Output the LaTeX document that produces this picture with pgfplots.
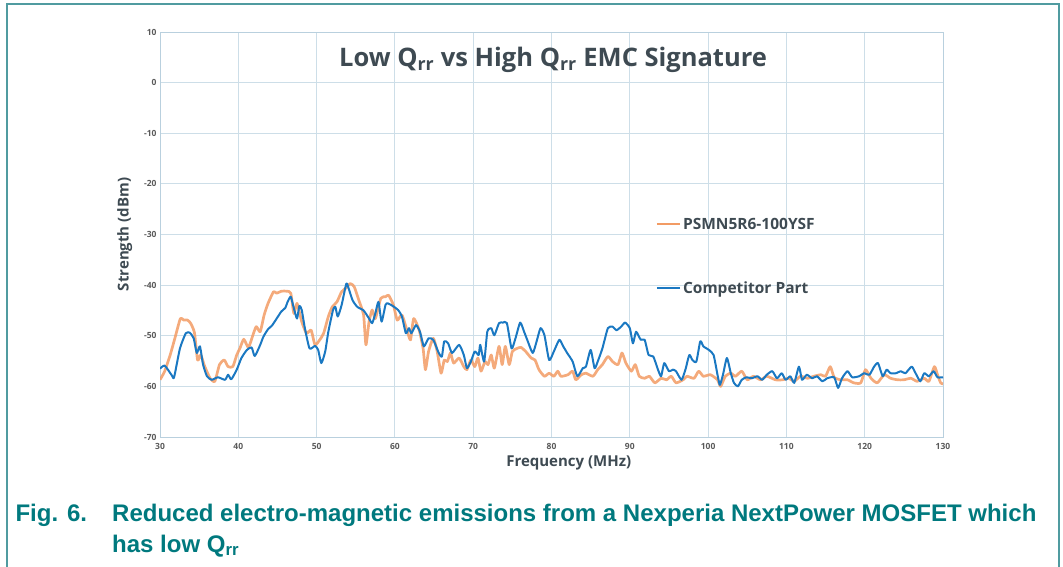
\documentclass[border=0pt]{standalone}
\usepackage{fontspec}
\setmainfont{Liberation Sans}
\newfontfamily\chartfont{Open Sans}
\usepackage{pgfplots}
\pgfplotsset{compat=1.18}
\definecolor{gridc}{RGB}{205,222,232}
\definecolor{axisc}{RGB}{185,208,222}
\definecolor{orangec}{RGB}{242,155,100}
\definecolor{bluec}{RGB}{26,120,194}
\definecolor{textc}{RGB}{62,74,82}
\definecolor{tickc}{RGB}{90,90,90}
\definecolor{tealc}{RGB}{0,121,126}
\definecolor{borderc}{RGB}{80,155,160}
\begin{document}
\begin{tikzpicture}
\useasboundingbox (0pt,0pt) rectangle (1063pt,566pt);
\draw[borderc, line width=1.2pt] (7pt,-2pt) -- (7pt,562pt) -- (1059pt,562pt) -- (1059pt,-2pt);
\begin{axis}[
  at={(160pt,129pt)}, anchor=south west, scale only axis,
  width=783pt, height=405pt,
  xmin=30, xmax=130, ymin=-70, ymax=10,
  xtick={30,40,...,130}, ytick={-70,-60,...,10},
  grid=major, major grid style={gridc, line width=0.9pt},
  axis line style={axisc, line width=1pt},
  tick style={draw=none},
  ticklabel style={font=\chartfont\bfseries\fontsize{8.5}{10}\selectfont, text=tickc},
  xticklabel style={yshift=-3pt},
  /pgf/number format/assume math mode=true,
  xlabel={Frequency (MHz)}, ylabel={Strength (dBm)},
  label style={font=\chartfont\bfseries\fontsize{15}{17}\selectfont, text=textc},
  xlabel style={at={(axis description cs:0.522,-0.064)}, anchor=center},
  ylabel style={at={(axis description cs:-0.045,0.5)}, anchor=center},
  legend style={at={(axis cs:93.3,-26.3)}, anchor=north west, draw=none, fill=none,
    font=\chartfont\bfseries\fontsize{15.5}{17}\selectfont, text=textc, row sep=47pt, inner sep=0pt},
  legend cell align=left,
  legend image code/.code={\draw[#1, line width=2.2pt, opacity=1] (0pt,0pt) -- (23pt,0pt);},
  clip=true,
]
\addplot[orangec, line width=2.7pt, opacity=0.85, line join=round, smooth, tension=0.35] coordinates {
(30,-58.7)(30.6,-57)(31.3,-53.8)(31.9,-50.5)(32.6,-46.6)(33,-46.9)(33.5,-46.9)(33.9,-47.5)(34.4,-49.4)(34.8,-54.8)(35.2,-53.8)(35.7,-56)(36.4,-58.4)(37.0,-59)(37.6,-55.7)(38.2,-54.8)(38.7,-56.1)(39.3,-56.1)(39.8,-53.8)(40.2,-52.5)(40.7,-50.7)(41.3,-52.3)(41.9,-49.7)(42.3,-48.2)(42.8,-49.2)(43.3,-45.9)(43.8,-43.6)(44.5,-41.3)(44.9,-41.6)(45.5,-41.2)(46.2,-41.2)(46.7,-41.6)(47.1,-45.6)(47.5,-43.6)(48.1,-47.2)(48.7,-49.5)(49.3,-48.9)(49.8,-51.8)(50.4,-50.8)(50.9,-49.5)(51.5,-46.2)(52.0,-44.3)(52.6,-43.3)(53.2,-41.3)(53.8,-40.5)(54.3,-39.7)(54.8,-40.3)(55.4,-43)(56.0,-45.9)(56.3,-51.8)(56.7,-47.2)(57.1,-44.9)(57.5,-46.6)(58.2,-42.6)(58.8,-42.3)(59.2,-42)(59.8,-43.9)(60.3,-46.9)(60.9,-45.9)(61.6,-49.2)(62,-50.8)(62.4,-46.6)(63.1,-48.9)(63.6,-52.5)(63.9,-56.7)(64.3,-53.1)(64.9,-50.5)(65.4,-53.1)(65.9,-57.4)(66.3,-54.8)
(66.7,-55.1)(67.1,-53.4)(67.5,-55.4)(68.2,-54.4)(68.8,-56.1)(69.2,-56.7)(69.7,-54.8)(70.2,-56.1)(70.6,-54.4)(71.0,-57)(71.5,-55.1)(71.9,-55.7)(72.3,-53.8)(72.7,-56.4)(73.3,-52.1)(73.7,-55.7)(74.1,-52.1)(74.6,-55.7)(75.0,-53.1)(75.6,-52.5)(76.1,-52.3)(76.7,-53.1)(77.4,-54.4)(77.9,-54.8)(78.4,-56.7)(79.1,-58)(79.7,-57.4)(80.3,-58)(80.8,-57)(81.2,-58)(82.1,-57.7)(82.7,-57)(83.1,-58.7)(83.8,-57.7)(84.4,-57.4)(85.3,-58)(85.9,-56.7)(86.5,-55.7)(87.2,-54.1)(87.8,-55.1)(88.5,-55.7)(89.0,-53.4)(89.5,-55.4)(90.2,-57)(90.7,-55.7)(91.2,-58)(91.9,-58.4)(92.5,-58)(93.2,-59.3)(94.0,-58.4)(94.7,-58.7)(95.3,-58)(95.9,-59.3)(96.8,-58.7)
(97.3,-58)(98.2,-58.4)(98.8,-57)(99.4,-58)(100.3,-57.7)(101.2,-58.7)(101.6,-60)(102.2,-58)(102.9,-57.4)(103.5,-58)(104.3,-57)(105.0,-58.7)(105.8,-58)(106.7,-58.7)(107.5,-58)(108.6,-58.7)(109.5,-58.7)(110.3,-58.4)(111.0,-59)(111.8,-58)(112.7,-58.4)(113.5,-58)(114.4,-57.7)(115.0,-58)(115.6,-56.1)(116.1,-58.2)(116.9,-58.7)(117.8,-58.7)(118.6,-59.3)(119.5,-59.3)(120.1,-56.7)(120.8,-58.4)(121.6,-59.3)(122.5,-57.7)(123.3,-58.4)(124.2,-58.7)(125.0,-58.7)(125.9,-58.4)(126.7,-59)(127.6,-58.4)(128.2,-59)(128.9,-56.1)(129.3,-57.7)(129.7,-59.3)(130,-59.5)
};
\addlegendentry{PSMN5R6-100YSF}
\addplot[bluec, line width=2pt, line join=round, smooth, tension=0.35] coordinates {
(30,-56.5)(30.6,-55.9)(31.5,-57.8)(31.8,-58.2)(32.55,-52.5)(33.3,-49.5)(33.8,-49.4)(34.3,-50.5)(34.7,-53.4)(35.1,-52.1)(35.5,-55.7)(36.0,-58)(36.6,-58.7)(37.4,-58.2)(38.3,-58.7)(38.7,-57.7)(39.1,-58.6)(39.8,-56.7)(40.4,-54.4)(41.1,-52.8)(41.7,-52.3)(42.1,-54)(42.8,-51.8)(43.2,-50.2)(43.8,-48.7)(44.3,-48)(44.9,-46.6)(45.5,-45.2)(46,-44.5)(46.3,-43.3)(46.7,-42.3)(47.1,-44.6)(47.5,-46.6)(47.8,-44.1)(48.1,-44.9)(48.5,-48.5)(49.1,-52.5)(49.8,-52)(50.2,-52.8)(50.6,-55.4)(51.1,-53.1)(51.5,-49.2)(52.1,-44.9)(52.4,-44.3)(52.7,-46.2)(53.2,-43.9)(53.8,-39.7)(54.1,-40.7)(54.6,-43)(55.2,-44.3)(56.0,-45)(56.7,-46.6)(57.1,-47.5)(57.5,-45.6)(57.9,-43.3)(58.3,-47.2)(58.8,-43.9)(59.1,-43.6)(59.7,-44.1)(60.4,-44.9)(60.9,-46.2)(61.4,-49.5)(61.8,-48.5)(62.1,-49.5)(62.7,-47.9)(63.2,-49.2)(63.7,-52.1)(64.3,-50.5)(64.9,-50.8)(65.6,-53.4)(66.0,-54.1)(66.3,-51.1)
(66.8,-51.5)(67.3,-53.4)(68.2,-51.8)(68.8,-53.8)(69.2,-56.4)(69.7,-55.1)(70.2,-53.1)(70.7,-53.8)(70.9,-51.8)(71.4,-55.1)(71.8,-49.2)(72.3,-48.5)(72.7,-49.9)(73.3,-47.5)(73.8,-47.4)(74.3,-47.5)(74.9,-52.5)(75.4,-50.5)(76.0,-47.4)(76.5,-49.2)(76.9,-50.8)(77.6,-53.4)(78.1,-51.1)(78.6,-48.5)(79.1,-49.9)(79.7,-54.8)(80.3,-53.1)(81.0,-50.8)(81.5,-52.1)(82.0,-53.4)(82.7,-55.1)(83.3,-58)(84.0,-56.4)(84.4,-56.1)(85.0,-52.8)(85.5,-56.4)(85.9,-55.1)(86.5,-52.5)(87.2,-48.5)(87.8,-48.2)(88.3,-48.9)(88.9,-48.2)(89.4,-47.4)(90.0,-48.5)(90.4,-51.5)(90.8,-49.2)(91.4,-50.8)(91.9,-50.8)(92.4,-53.8)(93.0,-54.1)(93.6,-56.7)(94.0,-58)(94.4,-55.4)(95.0,-57)(95.5,-56.7)(95.9,-57)(96.6,-58.7)(97.1,-56.7)(97.6,-53.8)(98.0,-54.8)
(98.5,-55.1)(99.0,-51.1)(99.4,-52.1)(100.1,-52.8)(100.7,-53.8)(101.2,-57.7)(101.5,-59.7)(101.9,-57.7)(102.4,-54.4)(102.9,-57.4)(103.3,-59.3)(103.8,-60)(104.3,-58.7)(104.9,-58.2)(105.6,-58.4)(106.3,-58)(106.9,-58.7)(107.5,-57.7)(108.2,-57)(108.8,-58.4)(109.4,-57.4)(109.9,-58.7)(110.5,-58)(111.0,-59.3)(111.6,-56.1)(112.0,-58.7)(112.6,-57.7)(113.3,-58.4)(113.9,-58)(114.6,-59)(115.2,-58.4)(116.1,-58.2)(116.6,-60.3)(117.1,-58.4)(117.8,-57)(118.4,-58.2)(119.3,-58)(119.9,-57.4)(120.6,-57.7)(121.2,-56.1)(121.7,-55.4)(122.3,-58)(122.8,-56.7)(123.3,-57.4)(124.0,-57.4)(124.6,-57)(125.2,-57.4)(126.0,-56.1)(126.5,-57.4)(127.1,-59)(127.6,-57.4)(128.2,-58)(128.8,-57)(129.3,-58.2)(130,-58.2)
};
\addlegendentry{Competitor Part}
\node[anchor=base, font=\chartfont\bfseries\fontsize{25.5}{30}\selectfont, text=textc] at (axis cs:80.2,3.1) {Low Q\textsubscript{rr} vs High Q\textsubscript{rr} EMC Signature};
\end{axis}
\node[anchor=base west, text=tealc, font=\bfseries\fontsize{24}{27}\selectfont] at (12pt,45pt) {Fig. 6.};
\node[anchor=base west, text=tealc, font=\bfseries\fontsize{24}{27}\selectfont, inner sep=0pt] at (112pt,45pt) {Reduced electro-magnetic emissions from a Nexperia NextPower MOSFET which};
\node[anchor=base west, text=tealc, font=\bfseries\fontsize{24}{27}\selectfont, inner sep=0pt] at (112pt,14pt) {has low Q\textsubscript{rr}};
\end{tikzpicture}
\end{document}
